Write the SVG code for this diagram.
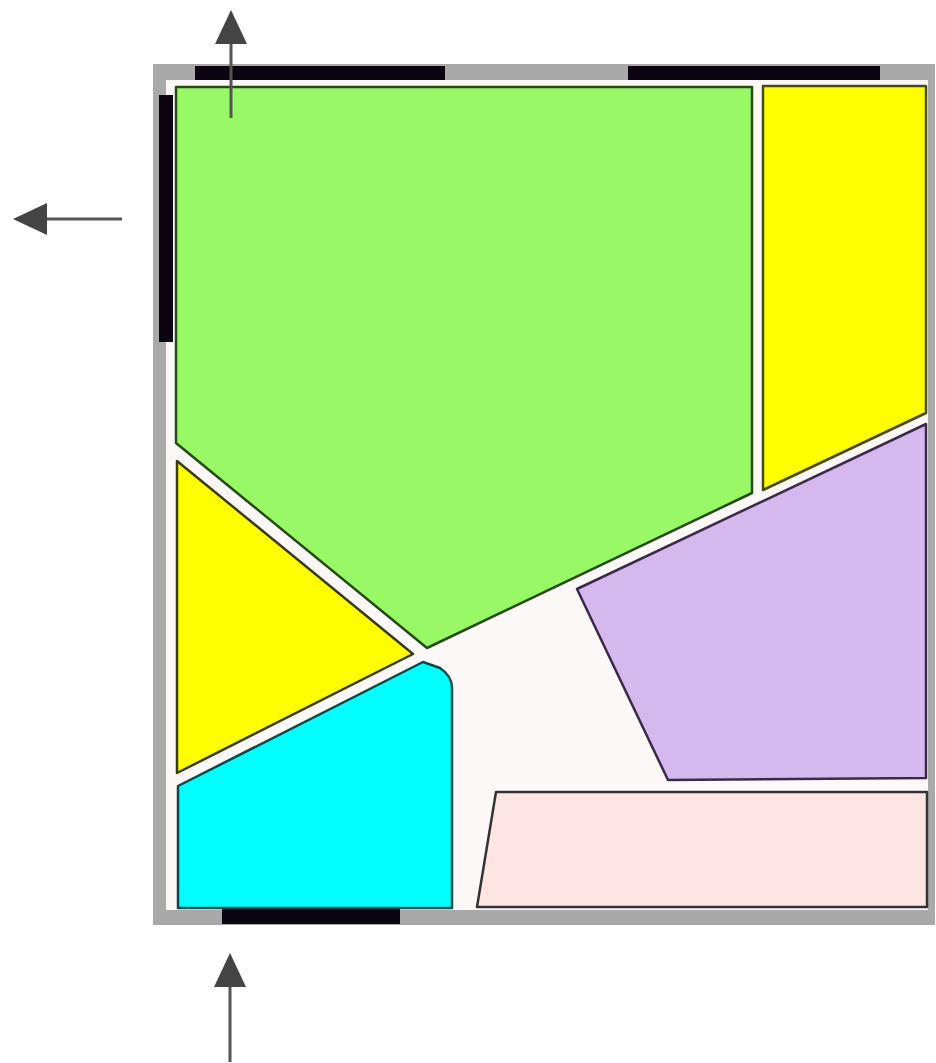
<svg xmlns="http://www.w3.org/2000/svg" width="936" height="1063" viewBox="0 0 936 1063">
  <defs>
    <marker id="ah" markerUnits="userSpaceOnUse" markerWidth="34" markerHeight="32" refX="1" refY="16" orient="auto">
      <path d="M0,0 L34,16 L0,32 Z" fill="#444"/>
    </marker>
    <style>
      .wall{fill:#0a0510}
      .room{stroke-width:2.5;stroke-linejoin:round}
      .arrow{stroke:#555;stroke-width:3;fill:none;marker-end:url(#ah)}
    </style>
  </defs>
  <rect width="936" height="1063" fill="#ffffff"/>
  <g id="frame">
    <rect x="153" y="64" width="782" height="861" fill="#a9a9a9"/>
    <rect x="166" y="80" width="762" height="830" fill="#fdf8f8"/>
    <rect class="wall" x="195" y="66" width="250" height="14"/>
    <rect class="wall" x="628" y="66" width="252" height="14"/>
    <rect class="wall" x="159" y="95" width="14" height="247"/>
    <rect class="wall" x="222" y="908" width="178" height="16"/>
  </g>
  <g id="room-green">
    <polygon class="room" points="176,87 752,87 752,493 427,648 176,443" fill="#99f866" stroke="#254a15"/>
  </g>
  <g id="room-yellow-right">
    <polygon class="room" points="763,86 926,86 926,413 763,490" fill="#ffff00" stroke="#4a4a10"/>
  </g>
  <g id="room-yellow-left">
    <polygon class="room" points="177,461 413,654 177,773" fill="#ffff00" stroke="#3a3a10"/>
  </g>
  <g id="room-cyan">
    <path class="room" d="M178,786 L423,662 L440,668 Q452,676 452,688 L452,908 L178,908 Z" fill="#00ffff" stroke="#0a4a4a"/>
  </g>
  <g id="room-purple">
    <polygon class="room" points="577,589 926,424 926,778 668,780" fill="#d4b8ee" stroke="#3a2a4a"/>
  </g>
  <g id="room-pink">
    <polygon class="room" points="496,792 927,792 927,907 477,907" fill="#ffe4e4" stroke="#333333"/>
  </g>
  <g id="connectors">
    <line class="arrow" x1="231" y1="118" x2="231" y2="43"/>
    <line class="arrow" x1="122" y1="219" x2="46" y2="219"/>
    <line class="arrow" x1="230" y1="1062" x2="230" y2="986"/>
  </g>
</svg>
